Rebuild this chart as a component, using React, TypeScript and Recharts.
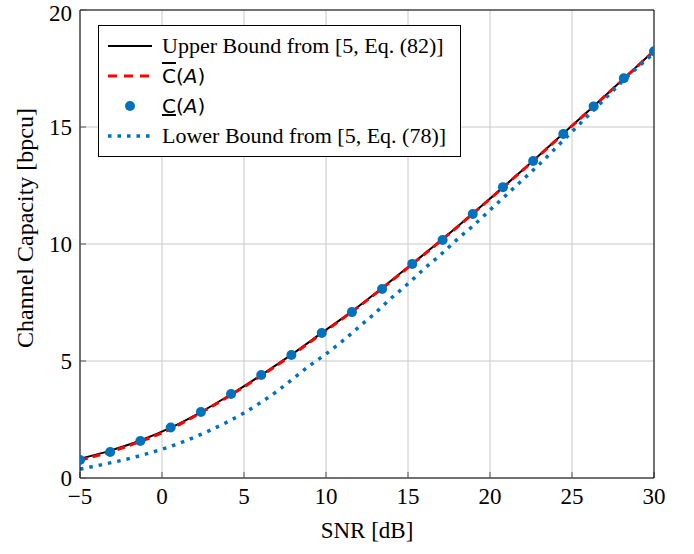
import React from 'react';
import {
  ComposedChart,
  Line,
  XAxis,
  YAxis,
  CartesianGrid,
  Legend,
} from 'recharts';

// SNR grid of the evaluated points [dB]
const snrGrid = [
  -5, -3.16, -1.32, 0.53, 2.37, 4.21, 6.05, 7.89, 9.74, 11.58, 13.42, 15.26, 17.11, 18.95, 20.79,
  22.63, 24.47, 26.32, 28.16, 30,
];
const upperBound = [
  0.82, 1.17, 1.6, 2.15, 2.82, 3.58, 4.4, 5.27, 6.2, 7.12, 8.12, 9.16, 10.21, 11.3, 12.42, 13.56,
  14.72, 15.89, 17.07, 18.26,
];
const cBar = [
  0.76, 1.12, 1.56, 2.1, 2.79, 3.55, 4.37, 5.24, 6.17, 7.1, 8.1, 9.14, 10.2, 11.29, 12.41, 13.55,
  14.71, 15.88, 17.06, 18.25,
];
const cUnder = [
  0.77, 1.11, 1.58, 2.16, 2.82, 3.59, 4.4, 5.26, 6.2, 7.09, 8.08, 9.15, 10.17, 11.28, 12.43, 13.55,
  14.7, 15.88, 17.08, 18.24,
];

// lower bound is drawn on a 1 dB grid
const lowerSnr = [
  -5, -4, -3, -2, -1, 0, 1, 2, 3, 4, 5, 6, 7, 8, 9, 10, 11, 12, 13, 14, 15, 16, 17, 18, 19, 20, 21,
  22, 23, 24, 25, 26, 27, 28, 29, 30,
];
const lowerBound = [
  0.38, 0.52, 0.67, 0.83, 1.02, 1.23, 1.47, 1.75, 2.06, 2.4, 2.78, 3.22, 3.7, 4.25, 4.8, 5.3, 5.85,
  6.45, 7.05, 7.7, 8.3, 8.95, 9.55, 10.2, 10.8, 11.45, 12.1, 12.75, 13.4, 14.1, 14.8, 15.5, 16.2,
  16.9, 17.55, 18.15,
];

const xTicks = [-5, 0, 5, 10, 15, 20, 25, 30];
const yTicks = [0, 5, 10, 15, 20];

const BLUE = '#0072BD';
const SERIF = '"Liberation Serif", "Times New Roman", serif';
const SANS = '"DejaVu Sans", sans-serif';

const toRows = (xs: number[], ys: number[]) => xs.map((snr, i) => ({ snr, value: ys[i] }));

const upperData = toRows(snrGrid, upperBound);
const cBarData = toRows(snrGrid, cBar);
const cUnderData = toRows(snrGrid, cUnder);
const lowerData = toRows(lowerSnr, lowerBound);

const fmt = (v: number) => String(v).replace('-', '\u2212');

const textStyle = { fontFamily: SERIF, fontSize: 23, fill: '#000' };

function XTick(props: any) {
  const { x, y, payload } = props;
  return (
    <text x={x} y={y} dy="0.71em" textAnchor="middle" style={textStyle}>
      {fmt(payload.value)}
    </text>
  );
}

function YTick(props: any) {
  const { x, y, payload } = props;
  // keep the top label inside the page
  return (
    <text x={x} y={Math.max(y, 13)} textAnchor="end" dominantBaseline="central" style={textStyle}>
      {fmt(payload.value)}
    </text>
  );
}

type LegendEntry = { kind: 'solid' | 'dash' | 'dot' | 'marker'; label: React.ReactNode };

const legendEntries: LegendEntry[] = [
  { kind: 'solid', label: 'Upper Bound from [5, Eq. (82)]' },
  {
    kind: 'dash',
    label: (
      <span style={{ fontFamily: SANS, fontSize: 20 }}>
        <span style={{ textDecoration: 'overline' }}>C</span>(<i>A</i>)
      </span>
    ),
  },
  {
    kind: 'marker',
    label: (
      <span style={{ fontFamily: SANS, fontSize: 20 }}>
        <span style={{ textDecoration: 'underline' }}>C</span>(<i>A</i>)
      </span>
    ),
  },
  { kind: 'dot', label: 'Lower Bound from [5, Eq. (78)]' },
];

function Swatch({ kind }: { kind: LegendEntry['kind'] }) {
  return (
    <svg width={44} height={12} style={{ display: 'block' }}>
      {kind === 'solid' && <line x1={0} x2={44} y1={6} y2={6} stroke="#000" strokeWidth={2} />}
      {kind === 'dash' && (
        <line x1={0} x2={44} y1={6} y2={6} stroke="#ff0000" strokeWidth={3} strokeDasharray="9 7" />
      )}
      {kind === 'dot' && (
        <line x1={0} x2={44} y1={6} y2={6} stroke={BLUE} strokeWidth={3.5} strokeDasharray="3.5 6" />
      )}
      {kind === 'marker' && <circle cx={22} cy={6} r={5} fill={BLUE} />}
    </svg>
  );
}

function LegendBox() {
  return (
    <div
      style={{
        border: '1px solid #000',
        background: '#fff',
        padding: '5px 14px 5px 9px',
        fontFamily: SERIF,
        fontSize: 22,
        color: '#000',
      }}
    >
      {legendEntries.map((e, i) => (
        <div key={i} style={{ display: 'flex', alignItems: 'center', height: 30 }}>
          <Swatch kind={e.kind} />
          <div style={{ marginLeft: 10, whiteSpace: 'nowrap', lineHeight: '30px' }}>{e.label}</div>
        </div>
      ))}
    </div>
  );
}

function YLabel() {
  return (
    <text
      x={25}
      y={228}
      transform="rotate(-90, 25, 228)"
      textAnchor="middle"
      dominantBaseline="central"
      style={{ ...textStyle, fontSize: 24 }}
    >
      Channel Capacity [bpcu]
    </text>
  );
}

function XLabel() {
  return (
    <text x={367} y={538} textAnchor="middle" style={textStyle}>
      SNR [dB]
    </text>
  );
}

export default function App() {
  return (
    <div style={{ position: 'absolute', left: 0, top: 0, background: '#fff', fontFamily: SERIF }}>
      <ComposedChart width={694} height={554} margin={{ top: 0, right: 0, bottom: 0, left: 0 }}>
        <CartesianGrid stroke="#c8c8c8" strokeWidth={1} />
        <XAxis
          dataKey="snr"
          type="number"
          domain={[-5, 30]}
          ticks={xTicks}
          allowDataOverflow
          height={76}
          tickSize={-6}
          tickMargin={16}
          tick={<XTick />}
          stroke="#000"
          tickLine={{ stroke: '#555' }}
          label={<XLabel />}
        />
        <XAxis
          xAxisId="top"
          orientation="top"
          dataKey="snr"
          type="number"
          domain={[-5, 30]}
          ticks={xTicks}
          height={10}
          tickSize={-6}
          tickFormatter={() => ''}
          stroke="#000"
          tickLine={{ stroke: '#555' }}
        />
        <YAxis
          type="number"
          domain={[0, 20]}
          ticks={yTicks}
          width={80}
          tickSize={-6}
          tickMargin={14}
          tick={<YTick />}
          stroke="#000"
          tickLine={{ stroke: '#555' }}
          label={<YLabel />}
        />
        <YAxis
          yAxisId="right"
          orientation="right"
          type="number"
          domain={[0, 20]}
          ticks={yTicks}
          width={40}
          tickSize={-6}
          tickFormatter={() => ''}
          stroke="#000"
          tickLine={{ stroke: '#555' }}
        />
        <Line
          data={upperData}
          dataKey="value"
          name="Upper Bound from [5, Eq. (82)]"
          type="monotone"
          stroke="#000"
          strokeWidth={2}
          dot={false}
          isAnimationActive={false}
        />
        <Line
          data={cBarData}
          dataKey="value"
          name="C bar"
          type="monotone"
          stroke="#ff0000"
          strokeWidth={3}
          strokeDasharray="8 5"
          dot={false}
          isAnimationActive={false}
        />
        <Line
          data={cUnderData}
          dataKey="value"
          name="C under"
          stroke="none"
          dot={{ r: 5, fill: BLUE, stroke: BLUE, strokeWidth: 0 }}
          isAnimationActive={false}
        />
        <Line
          data={lowerData}
          dataKey="value"
          name="Lower Bound from [5, Eq. (78)]"
          type="monotone"
          stroke={BLUE}
          strokeWidth={3.5}
          strokeDasharray="3.5 6"
          dot={false}
          isAnimationActive={false}
        />
        <Legend
          layout="vertical"
          align="center"
          verticalAlign="middle"
          wrapperStyle={{ left: 98, top: 25, width: 'auto', height: 'auto' }}
          content={() => <LegendBox />}
        />
      </ComposedChart>
    </div>
  );
}
